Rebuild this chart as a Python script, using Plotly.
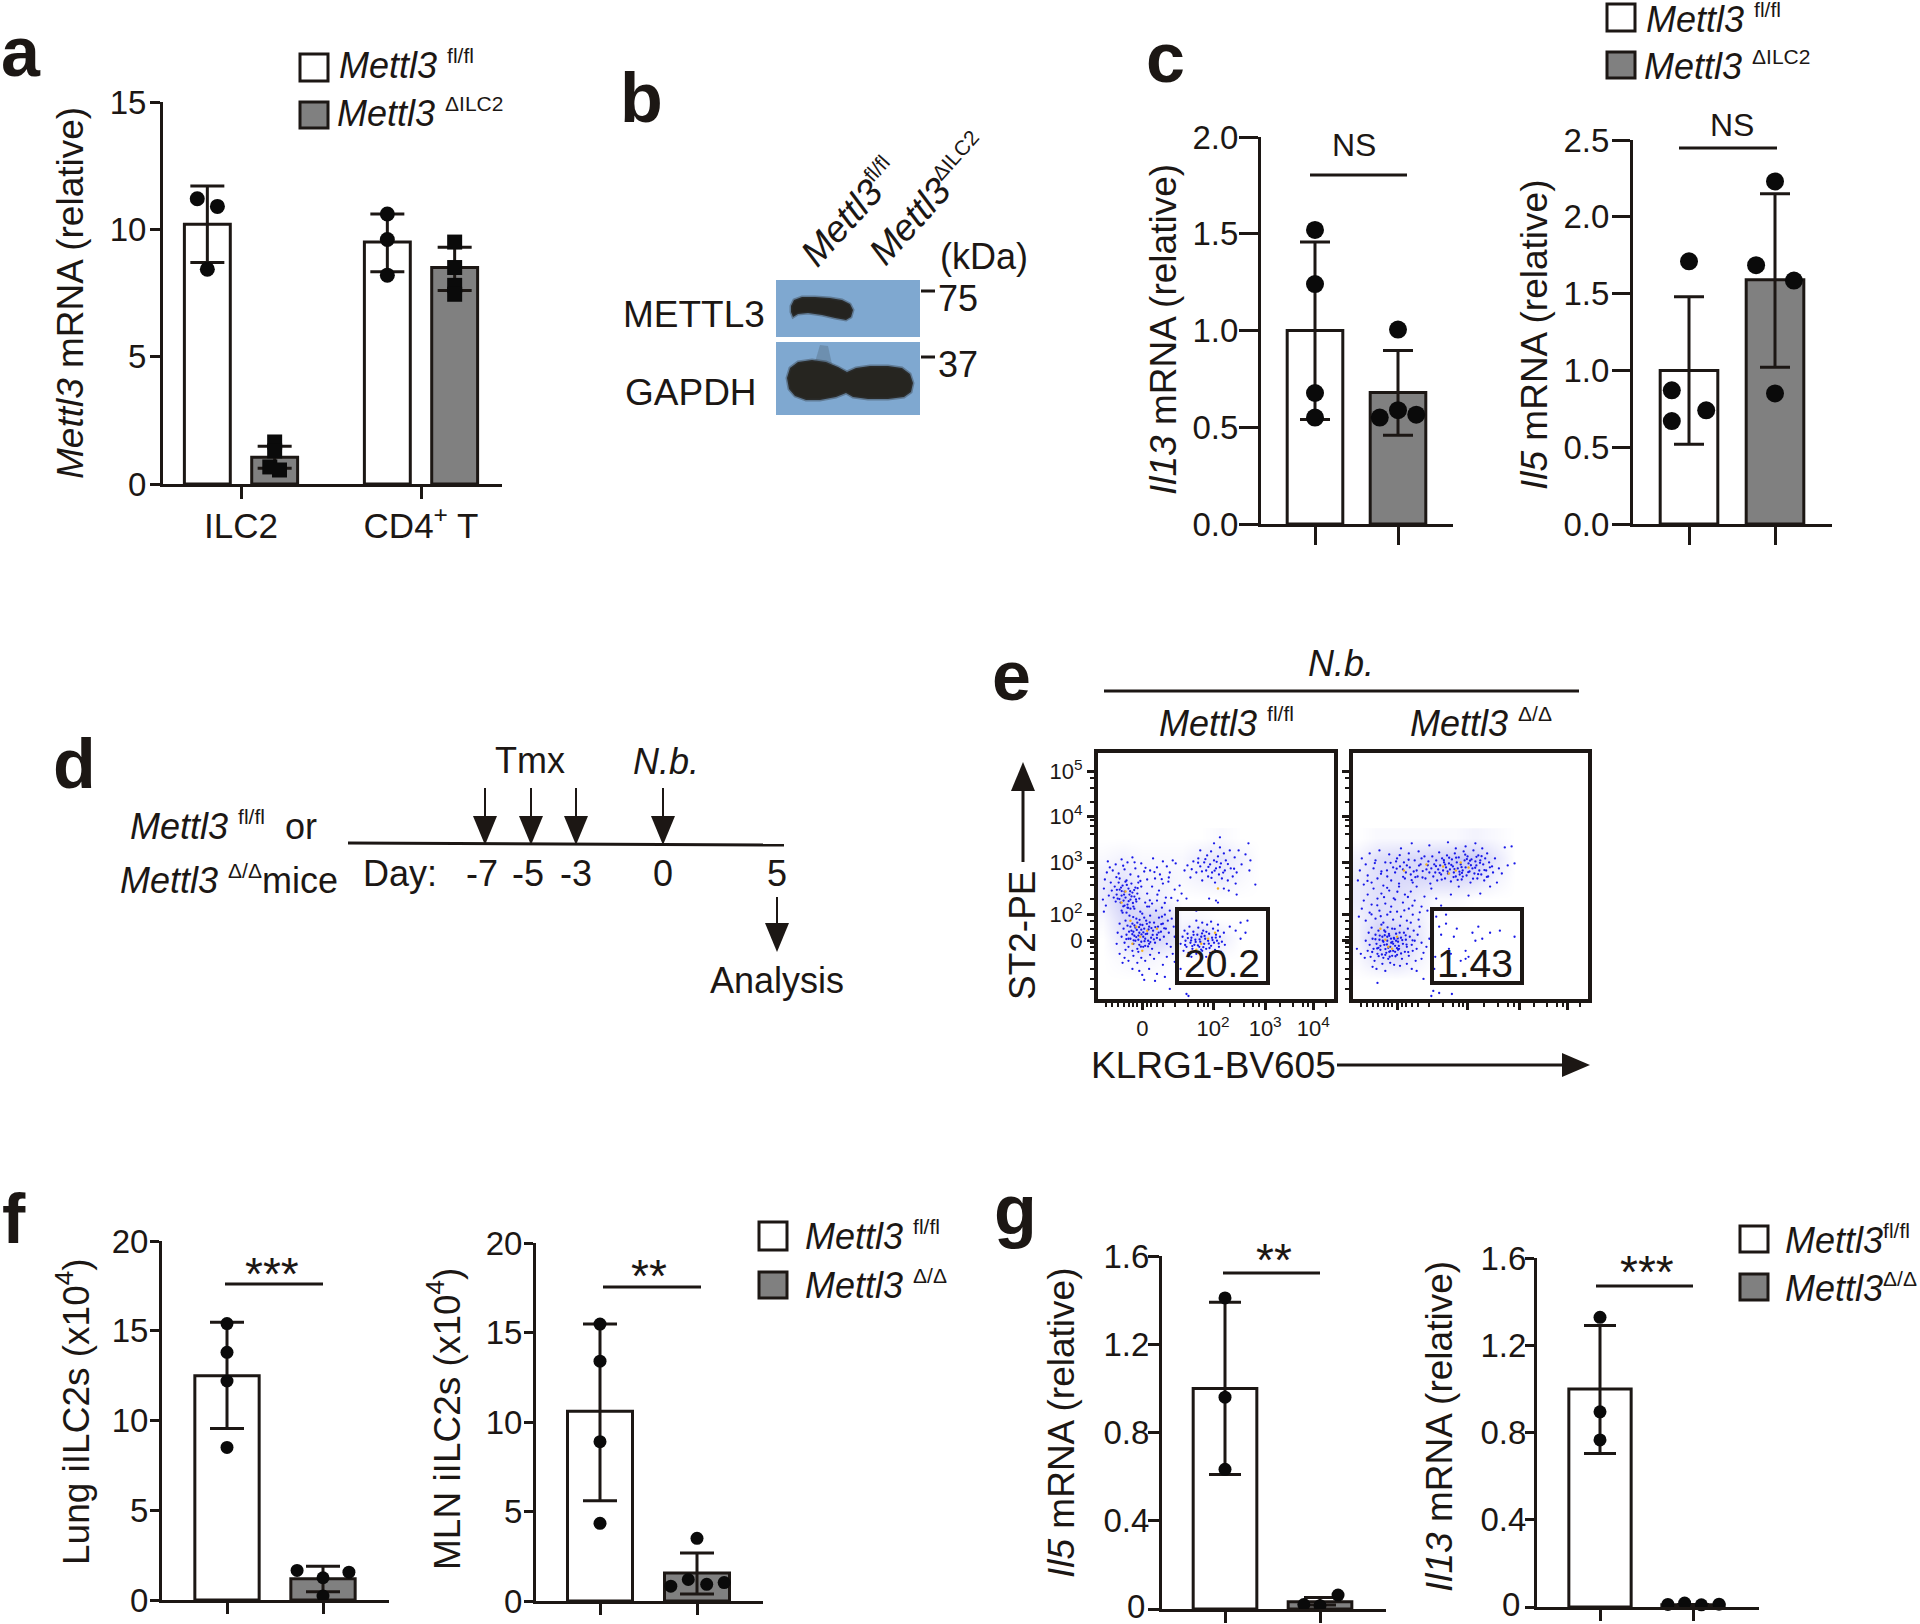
"""
Multi-panel Mettl3 figure (a-g): bar panels, blot sketch, timeline and flow plots.
"""

import plotly.graph_objects as go

W, H = 1920, 1624
INK = "#1C1714"
GRAY = "#808080"
BLOT_BLUE = "#7FA8D0"
FONT = "Liberation Sans"
FL = '<sup><span style="font-size:21px">fl/fl</span></sup>'
DD = '<sup><span style="font-size:21px">Δ/Δ</span></sup>'
DI = '<sup><span style="font-size:21px">ΔILC2</span></sup>'

# panel a
A_CATS = ["ILC2", "CD4<sup>+</sup> T"]
A_X = [-0.187, 0.187, 0.813, 1.187]
A_MEAN = [10.2, 1.05, 9.5, 8.5]
A_HI = [11.7, 1.48, 10.6, 9.3]
A_LO = [8.7, 0.62, 8.33, 7.6]
A_PX = [-0.243, -0.131, -0.187, 0.187, 0.187, 0.16, 0.214, 0.813, 0.813, 0.813, 1.187, 1.187, 1.187, 1.187]
A_PY = [11.2, 10.9, 8.43, 1.65, 1.3, 0.67, 0.55, 10.6, 9.6, 8.2, 9.5, 8.5, 7.8, 7.45]
A_SYM = ["circle"] * 3 + ["square"] * 4 + ["circle"] * 3 + ["square"] * 4

# panel c
C1_MEAN = [1.0, 0.68]
C1_HI = [1.457, 0.897]
C1_LO = [0.54, 0.459]
C1_PX = [0, 0, 0, 0, 1, 0.78, 1, 1.22]
C1_PY = [1.52, 1.24, 0.677, 0.55, 1.005, 0.55, 0.588, 0.565]

C2_MEAN = [1.0, 1.59]
C2_HI = [1.48, 2.15]
C2_LO = [0.52, 1.02]
C2_PX = [0, -0.2, -0.2, 0.2, 1, 0.78, 1.22, 1]
C2_PY = [1.71, 0.87, 0.67, 0.74, 2.23, 1.685, 1.585, 0.85]

# panel f
F1_MEAN = [12.5, 1.18]
F1_HI = [15.47, 1.88]
F1_LO = [9.55, 0.46]
F1_PX = [0, 0, 0, 0, 0.73, 1.27, 1, 1]
F1_PY = [15.4, 13.8, 12.2, 8.5, 1.65, 1.55, 1.24, 0.22]

F2_MEAN = [10.6, 1.57]
F2_HI = [15.47, 2.68]
F2_LO = [5.6, 0.39]
F2_PX = [0, 0, 0, 0, 1, 0.73, 0.91, 1.1, 1.28]
F2_PY = [15.47, 13.4, 8.9, 4.34, 3.5, 0.83, 1.2, 0.93, 1.03]

# panel g
G1_MEAN = [1.0, 0.033]
G1_HI = [1.39, 0.052]
G1_LO = [0.61, 0.018]
G1_PX = [0, 0, 0, 0.83, 1, 1.19]
G1_PY = [1.41, 0.96, 0.633, 0.02, 0.015, 0.063]

G2_MEAN = [1.0, 0.01]
G2_HI = [1.29, 0.012]
G2_LO = [0.704, 0.008]
G2_PX = [0, 0, 0, 0.73, 0.91, 1.09, 1.28]
G2_PY = [1.328, 0.895, 0.766, 0.012, 0.018, 0.01, 0.013]

# y ticks shared by the bar panels
TICKS_A = [0, 5, 10, 15]
TICKS_C1 = [0, 0.5, 1.0, 1.5, 2.0]
TICKS_C2 = [0, 0.5, 1.0, 1.5, 2.0, 2.5]
TICKS_F = [0, 5, 10, 15, 20]
TICKS_G = [0, 0.4, 0.8, 1.2, 1.6]

# panel e, display channels of the flow plots (KLRG1, ST2), dots read by eye
E_X_TICKS = [45, 117, 170, 219]
E_Y_TICKS = [58, 84, 136, 182, 227]
E_X_LABELS = ["0", "10<sup>2</sup>", "10<sup>3</sup>", "10<sup>4</sup>"]
E_Y_LABELS = ["0", "10<sup>2</sup>", "10<sup>3</sup>", "10<sup>4</sup>", "10<sup>5</sup>"]
E_X_MINOR = [8, 14, 20, 26, 32, 36, 40, 50, 54, 60, 66, 78, 92, 102, 108, 112, 134, 148, 158, 164, 185, 198, 208, 214, 232]
E_Y_MINOR = [10, 20, 30, 40, 46, 52, 56, 62, 70, 78, 100, 114, 122, 130, 150, 164, 172, 178, 196, 210, 220]
E_GRID_X = [5, 25, 45, 65, 85, 105, 125, 145, 165]
E_GRID_Y = [20, 40, 60, 80, 100, 120, 140, 160]
E1_DENSITY = [
    [0, 0, 0, 0, 0, 0, 0, 0, 0],
    [0, 1, 2, 1, 0, 0, 0, 0, 0],
    [0, 4, 8, 6, 3, 7, 3, 0, 0],
    [1, 6, 7, 7, 1, 1, 0, 0, 0],
    [3, 8, 3, 2, 0, 0, 0, 0, 0],
    [3, 4, 2, 2, 1, 2, 3, 1, 0],
    [1, 2, 1, 1, 1, 3, 4, 2, 0],
    [0, 0, 0, 0, 0, 0, 1, 0, 0],
]
E2_DENSITY = [
    [0, 0, 0, 0, 0, 0, 0, 0, 0],
    [1, 4, 5, 2, 0, 0, 0, 0, 0],
    [2, 8, 9, 4, 0, 0, 0, 0, 0],
    [2, 5, 4, 3, 0, 0, 0, 0, 0],
    [3, 5, 5, 3, 1, 1, 0, 0, 0],
    [3, 5, 6, 6, 6, 6, 5, 2, 0],
    [2, 5, 6, 6, 7, 8, 8, 4, 0],
    [0, 1, 1, 1, 1, 1, 2, 1, 0],
]
E1_DOTS = [
    (14, 108), (17, 112), (19, 104), (20, 100), (21, 116), (22, 109), (23, 96), (24, 103), (25, 113), (26, 98),
    (27, 107), (28, 101), (29, 118), (30, 94), (31, 110), (32, 104), (33, 99), (34, 115), (35, 106), (36, 92),
    (37, 102), (38, 111), (39, 97), (40, 105), (41, 116), (42, 100), (18, 97), (16, 101), (22, 120), (27, 93),
    (33, 90), (44, 112), (13, 116), (11, 103), (24, 88), (29, 86),
    (7, 119), (6, 110), (9, 126), (12, 131), (15, 128), (10, 137), (18, 134), (21, 125), (24, 139), (27, 129),
    (30, 136), (33, 124), (35, 141), (38, 130), (41, 122), (44, 135), (47, 127), (50, 119), (53, 128), (56, 140),
    (60, 131), (63, 124), (66, 137), (70, 132), (73, 126), (76, 138), (79, 135), (55, 112), (58, 120), (62, 108),
    (66, 115), (69, 101), (72, 121), (78, 109), (81, 98), (50, 105), (8, 93), (5, 99), (6, 87), (48, 96), (52, 92),
    (24, 62), (26, 70), (27, 56), (28, 78), (29, 64), (30, 73), (31, 52), (32, 83), (33, 60), (34, 68), (35, 75),
    (36, 55), (37, 63), (38, 71), (39, 80), (40, 50), (41, 59), (42, 66), (43, 74), (44, 57), (45, 85), (46, 62),
    (47, 70), (48, 53), (49, 78), (50, 65), (51, 58), (52, 72), (53, 83), (54, 61), (55, 50), (56, 68), (57, 76),
    (58, 56), (59, 88), (60, 64), (61, 72), (62, 81), (63, 59), (64, 67), (65, 91), (66, 75), (67, 62), (68, 84),
    (69, 70), (70, 55), (71, 78), (72, 66), (73, 88), (74, 52), (38, 58), (42, 54), (36, 67), (44, 69), (40, 76),
    (46, 52), (33, 72), (31, 60), (48, 60), (52, 55), (35, 48), (41, 47), (28, 49), (47, 81), (43, 87), (37, 90),
    (30, 91), (25, 86), (22, 75), (20, 66), (50, 92), (55, 95), (60, 98), (65, 82), (75, 80), (78, 62), (80, 55),
    (77, 72),
    (19, 55), (22, 45), (27, 41), (31, 38), (36, 43), (40, 36), (44, 41), (48, 38), (53, 44), (57, 40), (62, 46),
    (66, 34), (70, 42), (76, 45), (78, 37), (42, 28), (45, 24), (47, 19), (35, 30), (52, 30), (60, 25), (68, 22),
    (73, 10), (90, 5), (92, 3), (80, 15), (58, 18), (84, 30), (25, 36),
    (84, 55), (86, 62), (87, 48), (88, 68), (89, 58), (90, 52), (91, 65), (92, 46), (93, 72), (94, 56), (95, 61),
    (96, 50), (97, 67), (98, 54), (99, 59), (100, 45), (101, 64), (102, 71), (103, 52), (104, 57), (105, 62),
    (106, 48), (107, 68), (108, 55), (109, 60), (110, 50), (111, 74), (112, 58), (113, 65), (114, 46), (115, 53),
    (116, 61), (117, 70), (118, 56), (119, 49), (120, 64), (121, 58), (122, 68), (123, 52), (124, 62), (125, 47),
    (126, 57), (128, 66), (129, 54), (100, 78), (106, 76), (115, 77), (122, 74), (134, 72), (140, 68), (145, 76),
    (152, 78), (150, 66), (145, 60), (95, 42), (110, 42),
    (88, 128), (91, 133), (94, 121), (97, 137), (100, 126), (102, 140), (104, 132), (106, 118), (108, 136),
    (110, 128), (111, 143), (112, 122), (114, 134), (115, 147), (116, 126), (118, 138), (119, 116), (120, 130),
    (122, 142), (123, 124), (124, 151), (125, 135), (126, 120), (128, 145), (129, 128), (130, 138), (132, 118),
    (134, 148), (135, 130), (137, 122), (139, 141), (141, 126), (143, 148), (146, 134), (150, 144), (153, 155),
    (155, 138), (154, 128), (124, 161), (118, 155), (104, 148), (140, 115), (133, 108), (128, 110), (160, 114),
    (141, 104), (120, 98), (122, 96), (113, 100), (96, 90), (100, 88), (83, 113), (85, 105), (90, 100),
    (26.5, 104), (31.2, 97.4), (23.4, 111), (36.8, 108.5), (29.3, 113.6), (34.1, 102.2), (25.7, 92.3), (38.6, 99.1),
    (21.8, 99.5), (32.7, 107.3), (27.9, 116.8), (19.2, 108.7), (35.5, 95.6), (40.3, 110.4), (30.6, 90.8), (24.1, 107.5),
    (44.2, 64.3), (38.9, 61.7), (51.4, 69.2), (47.3, 57.6), (41.8, 71.5), (55.6, 63.8), (36.2, 58.4), (49.7, 74.9),
    (43.6, 52.1), (58.3, 71.6), (34.9, 64.5), (53.2, 56.7), (46.1, 66.4), (39.4, 68.8), (61.7, 66.2), (42.3, 78.9),
    (56.8, 59.3), (48.5, 64.7), (37.1, 73.2), (64.4, 74.5), (31.6, 67.1), (52.6, 76.3), (45.2, 73.7), (59.9, 60.8),
    (35.8, 81.6), (41.1, 63.2), (67.3, 70.4), (28.8, 59.7), (54.3, 70.6), (50.9, 52.4),
    (94.7, 58.3), (101.6, 53.4), (108.4, 62.8), (97.2, 63.9), (104.9, 49.2), (112.7, 55.1), (99.3, 56.8), (116.5, 58.7),
    (107.1, 51.6), (91.4, 60.7), (110.2, 66.9), (103.3, 59.4), (119.8, 61.2), (95.9, 52.7), (113.4, 50.8), (88.6, 53.8),
    (122.7, 55.3), (105.8, 65.3),
    (112.3, 131.5), (118.6, 127.8), (105.7, 127.1), (123.9, 131.2), (115.4, 120.6), (109.2, 139.3), (127.3, 125.9),
    (101.8, 135.7), (132.1, 134.4), (120.7, 136.6), (95.3, 129.2), (138.4, 129.7),
    (48.3, 130.6), (37.2, 136.1), (64.8, 119.3), (25.6, 132.7), (57.4, 126.4), (71.6, 116.8), (18.7, 121.3), (43.1, 117.5),
    (74.5, 100.7), (60.4, 103.9), (52.7, 98.3), (67.9, 95.6),
]
E2_DOTS = [
    (13, 58), (15, 48), (16, 66), (17, 54), (18, 42), (19, 71), (20, 60), (21, 50), (22, 38), (23, 64), (24, 55),
    (25, 45), (26, 68), (27, 59), (28, 49), (29, 74), (30, 62), (31, 41), (32, 54), (33, 67), (34, 46), (35, 58),
    (36, 51), (37, 63), (38, 36), (39, 56), (40, 70), (41, 48), (42, 60), (43, 53), (44, 65), (45, 44), (46, 57),
    (47, 50), (48, 73), (49, 61), (50, 40), (51, 55), (52, 66), (53, 47), (54, 59), (55, 52), (56, 70), (57, 43),
    (58, 62), (59, 76), (60, 54), (61, 48), (62, 68), (63, 58), (64, 38), (65, 50), (66, 64), (68, 72), (70, 56),
    (72, 46), (33, 44), (37, 47), (41, 55), (38, 52), (35, 62), (31, 57), (44, 58), (46, 49), (40, 43), (43, 47),
    (28, 53), (26, 51), (36, 40), (30, 35), (42, 34), (48, 33), (24, 30), (33, 28), (20, 32), (55, 35), (60, 30),
    (65, 28), (70, 40), (75, 52), (80, 48), (78, 60), (84, 42), (12, 41), (8, 45), (4, 50),
    (6, 82), (9, 90), (11, 98), (13, 78), (15, 104), (17, 86), (19, 94), (21, 110), (23, 80), (25, 100), (27, 88),
    (29, 105), (31, 76), (33, 95), (35, 84), (37, 108), (39, 92), (41, 79), (43, 99), (45, 87), (47, 112), (49, 82),
    (51, 96), (53, 104), (55, 78), (57, 90), (59, 107), (61, 84), (63, 98), (65, 112), (67, 79), (70, 92), (73, 102),
    (76, 88), (80, 110), (85, 100), (90, 93), (95, 84), (100, 104),
    (5, 118), (7, 128), (9, 140), (11, 114), (13, 134), (15, 123), (17, 145), (19, 116), (21, 130), (23, 138),
    (25, 120), (27, 148), (29, 127), (31, 113), (33, 136), (35, 122), (37, 144), (39, 118), (41, 131), (43, 126),
    (45, 140), (47, 115), (49, 150), (51, 129), (52, 136), (53, 120), (55, 133), (57, 145), (59, 124), (61, 116),
    (63, 138), (65, 128), (67, 147), (69, 134), (71, 121), (73, 142), (75, 129), (77, 137), (79, 115), (48, 132),
    (44, 137), (58, 131), (62, 127), (54, 126), (66, 122), (70, 140), (74, 120), (78, 126),
    (80, 130), (81, 142), (82, 122), (83, 134), (84, 126), (85, 138), (86, 118), (87, 129), (88, 146), (89, 133),
    (90, 124), (91, 140), (92, 128), (93, 136), (94, 120), (95, 131), (96, 143), (97, 125), (98, 135), (99, 129),
    (100, 117), (101, 139), (102, 132), (103, 126), (104, 145), (105, 122), (106, 136), (107, 130), (108, 141),
    (109, 124), (110, 134), (111, 119), (112, 128), (113, 147), (114, 138), (115, 131), (116, 123), (117, 142),
    (118, 135), (119, 127), (120, 116), (121, 139), (122, 130), (123, 148), (124, 125), (125, 137), (126, 133),
    (127, 120), (128, 143), (129, 128), (130, 138), (131, 124), (132, 150), (133, 134), (134, 118), (135, 140),
    (136, 128), (137, 145), (138, 122), (139, 136), (140, 112), (142, 132), (143, 126), (145, 140), (147, 116),
    (149, 130), (152, 125), (155, 151), (158, 133), (162, 152), (165, 135), (125, 155), (115, 152), (97, 156),
    (105, 150), (78, 153), (60, 155), (130, 105), (118, 103), (108, 112),
    (85, 82), (88, 72), (90, 64), (95, 75), (100, 45), (103, 62), (106, 70), (115, 48), (118, 42), (122, 66),
    (125, 58), (128, 72), (132, 60), (140, 66), (150, 68), (165, 62), (98, 50), (110, 38), (83, 30), (86, 15),
    (80, 3), (82, 8), (88, 6), (101, 5), (72, 20), (25, 16), (115, 40),
    (34.6, 54.3), (41.7, 60.8), (27.3, 63.2), (46.8, 52.9), (38.1, 47.6), (31.9, 68.2), (50.3, 58.7), (24.7, 50.4),
    (43.4, 42.6), (36.7, 64.8), (29.5, 44.3), (53.8, 63.4), (40.2, 56.9), (33.1, 49.7), (47.6, 66.1), (22.9, 59.5),
    (56.4, 46.7), (38.8, 60.1), (44.9, 50.6), (30.4, 58.1), (35.3, 71.4), (60.8, 58.4), (26.2, 42.7), (42.6, 69.8),
    (49.1, 45.3), (37.5, 42.1), (32.4, 63.5), (54.7, 54.2), (19.6, 46.8), (45.7, 60.3),
    (100.4, 133.5), (108.7, 126.8), (116.3, 139.4), (124.8, 130.7), (96.6, 127.2), (112.1, 121.9), (120.4, 133.2),
    (105.3, 140.8), (129.7, 135.6), (92.8, 138.2), (117.7, 126.3), (134.2, 128.4), (88.4, 125.7), (102.7, 121.4),
    (126.1, 141.6), (110.9, 131.3), (98.2, 140.7), (122.6, 119.8), (84.7, 132.3), (114.6, 143.7), (139.8, 131.1),
    (106.9, 118.6), (131.3, 142.2), (94.1, 133.9), (119.5, 137.8), (127.8, 124.3), (90.6, 118.9), (103.6, 129.4),
    (136.7, 121.6), (111.3, 125.6),
    (71.2, 127.4), (56.8, 138.7), (63.7, 121.3), (44.6, 129.8), (76.3, 133.2), (51.2, 121.7), (38.4, 135.6), (67.4, 132.9),
    (28.6, 124.7), (59.9, 118.3), (34.7, 128.1), (22.3, 135.4), (14.8, 117.6), (47.7, 143.2),
    (24.8, 93.3), (38.2, 86.7), (52.4, 88.2), (31.7, 101.4), (45.3, 106.8), (18.9, 84.2), (60.7, 92.9), (41.6, 100.3),
    (28.3, 82.4), (56.1, 101.6), (34.9, 110.7), (68.2, 86.3),
]
E1_WARM = [(28, 107), (24, 96), (39, 72), (43, 62), (50, 68), (35, 55), (60, 70), (105, 55), (112, 60), (100, 49), (119, 66), (122, 110), (45, 48), (33, 78)]
E2_WARM = [(40, 50), (33, 59), (45, 62), (28, 70), (92, 132), (105, 128), (110, 136), (118, 131), (98, 125), (75, 134), (52, 128), (36, 52)]

# panel d
D_DAYS = ["-7", "-5", "-3", "0", "5"]
D_DAY_X = [482, 528, 576, 663, 777]
D_ARROW_X = [485, 531, 576, 663]

fig = go.Figure()
shapes = []
notes = []


def fx(px):
    return px / W


def fy(py):
    return 1 - py / H


def text(px, py, label, size=36, angle=0, anchor="center", color=INK, bold=False):
    notes.append(
        dict(
            xref="paper", yref="paper", x=fx(px), y=fy(py), text=f"<b>{label}</b>" if bold else label,
            showarrow=False, xanchor=anchor, yanchor="middle", textangle=angle,
            font=dict(family=FONT, size=size, color=color),
        )
    )


def line(x0, y0, x1, y1, width=3):
    shapes.append(
        dict(type="line", xref="paper", yref="paper", x0=fx(x0), y0=fy(y0), x1=fx(x1), y1=fy(y1),
             line=dict(color=INK, width=width))
    )


def blob(points, fill, edge="rgba(0,0,0,0)", edge_width=0):
    """Closed paper-space polygon from pixel points."""
    path = "M " + " L ".join(f"{fx(x):.5f} {fy(y):.5f}" for x, y in points) + " Z"
    shapes.append(
        dict(type="path", xref="paper", yref="paper", path=path, fillcolor=fill,
             line=dict(color=edge, width=edge_width))
    )


def box(x0, y0, x1, y1, fill, width=3):
    shapes.append(
        dict(type="rect", xref="paper", yref="paper", x0=fx(x0), y0=fy(y0), x1=fx(x1), y1=fy(y1),
             fillcolor=fill, line=dict(color=INK, width=width))
    )


def legend(x_box, y_top, y_bot, x_text, y_text, second, sep=" "):
    w = 28
    box(x_box, y_top[0], x_box + w, y_top[1], "white")
    box(x_box, y_bot[0], x_box + w, y_bot[1], GRAY)
    text(x_text[0], y_text[0], f"<i>Mettl3</i>{sep}{FL}", anchor="left")
    text(x_text[1], y_text[1], f"<i>Mettl3</i>{sep}{second}", anchor="left")


def bar_panel(n, dom_x, dom_y, ticks_px, bar_x, mean, hi, lo, pts_x, pts_y, yticks, yticktext=None,
              cats=None, width=0.67, cap=15, msize=15, symbols="circle", ylen=9, xlen=11, ystandoff=-4):
    unit = ticks_px[1] - ticks_px[0]
    colours = ["white", GRAY] * (len(mean) // 2)
    axis_x, axis_y = f"x{n}", f"y{n}"
    fig.add_trace(
        go.Bar(
            x=bar_x, y=mean, width=width, xaxis=axis_x, yaxis=axis_y, showlegend=False,
            marker=dict(color=colours, line=dict(color=INK, width=3)),
            error_y=dict(
                type="data", symmetric=False,
                array=[h - m for h, m in zip(hi, mean)],
                arrayminus=[m - l for m, l in zip(mean, lo)],
                color=INK, thickness=3, width=cap,
            ),
        )
    )
    fig.add_trace(
        go.Scatter(
            x=pts_x, y=pts_y, mode="markers", xaxis=axis_x, yaxis=axis_y, showlegend=False, cliponaxis=False,
            marker=dict(color="#0A0A0A", size=msize, symbol=symbols),
        )
    )
    x_ticks = dict(tickvals=[0, 1], ticktext=cats) if cats else dict(tickvals=[0, 1], showticklabels=False)
    fig.update_layout(
        **{
            f"xaxis{n}": dict(
                domain=[fx(dom_x[0]), fx(dom_x[1])], anchor=axis_y, automargin=False,
                range=[(dom_x[0] - ticks_px[0]) / unit, (dom_x[1] - ticks_px[0]) / unit],
                tickmode="array", **x_ticks,
                ticks="outside", ticklen=xlen, tickwidth=3, tickcolor=INK, ticklabelstandoff=-3,
                showline=True, linewidth=3, linecolor=INK, showgrid=False, zeroline=False,
                tickfont=dict(family=FONT, size=35, color=INK),
            ),
            f"yaxis{n}": dict(
                domain=[fy(dom_y[1]), fy(dom_y[0])], anchor=axis_x, automargin=False,
                range=[0, yticks[-1]],
                tickmode="array", tickvals=yticks,
                ticktext=yticktext or [f"{v}" for v in yticks],
                ticks="outside", ticklen=ylen, tickwidth=3, tickcolor=INK, ticklabelstandoff=ystandoff,
                showline=True, linewidth=3, linecolor=INK, showgrid=False, zeroline=False,
                tickfont=dict(family=FONT, size=33, color=INK),
            ),
        }
    )


def flow_panel(n, dom_x, dom_y, density, dots, warm, labelled):
    axis_x, axis_y = f"x{n}", f"y{n}"
    fig.add_trace(
        go.Heatmap(
            x=E_GRID_X, y=E_GRID_Y, z=density, zsmooth="best", showscale=False, xaxis=axis_x, yaxis=axis_y,
            zmin=0, zmax=12, colorscale=[[0, "white"], [1, "#B4B4F4"]],
        )
    )
    fig.add_trace(
        go.Scatter(
            x=[d[0] for d in dots], y=[d[1] for d in dots], mode="markers", xaxis=axis_x, yaxis=axis_y,
            showlegend=False, marker=dict(color="#1818E8", size=2.3),
        )
    )
    fig.add_trace(
        go.Scatter(
            x=[d[0] for d in warm], y=[d[1] for d in warm], mode="markers", xaxis=axis_x, yaxis=axis_y,
            showlegend=False, marker=dict(color="#F2B01E", size=2.4),
        )
    )
    common = dict(
        showline=True, linewidth=4, linecolor=INK, mirror=True, showgrid=False, zeroline=False,
        ticks="outside", ticklen=7, tickwidth=3, tickcolor=INK, tickmode="array", automargin=False,
        showticklabels=labelled, tickfont=dict(family=FONT, size=22, color=INK),
    )
    minor = dict(ticks="outside", ticklen=4, tickwidth=2, tickcolor=INK)
    fig.update_layout(
        **{
            f"xaxis{n}": dict(
                domain=[fx(dom_x[0]), fx(dom_x[1])], anchor=axis_y, range=[0, 240],
                tickvals=E_X_TICKS, ticktext=E_X_LABELS,
                minor=dict(tickvals=E_X_MINOR, **minor), **common,
            ),
            f"yaxis{n}": dict(
                domain=[fy(dom_y[1]), fy(dom_y[0])], anchor=axis_x, range=[0, 245],
                tickvals=E_Y_TICKS, ticktext=E_Y_LABELS,
                minor=dict(tickvals=E_Y_MINOR, **minor), **common,
            ),
        }
    )


# --- bar panels ---
bar_panel(1, (163, 502), (102, 484), (241, 421), A_X, A_MEAN, A_HI, A_LO, A_PX, A_PY, TICKS_A,
          cats=A_CATS, width=0.255, cap=17, msize=15, symbols=A_SYM, ylen=10, xlen=12, ystandoff=-3)
bar_panel(2, (1261, 1453), (137, 524), (1315, 1398), [0, 1], C1_MEAN, C1_HI, C1_LO, C1_PX, C1_PY,
          TICKS_C1, yticktext=["0.0", "0.5", "1.0", "1.5", "2.0"], cap=15, msize=18, ylen=19, xlen=18, ystandoff=-6)
bar_panel(3, (1633, 1832), (140, 524), (1689, 1775), [0, 1], C2_MEAN, C2_HI, C2_LO, C2_PX, C2_PY,
          TICKS_C2, yticktext=["0.0", "0.5", "1.0", "1.5", "2.0", "2.5"], cap=15, msize=18, ylen=18, xlen=18,
          ystandoff=-4)
bar_panel(4, (162, 389), (1241, 1600), (227, 323), [0, 1], F1_MEAN, F1_HI, F1_LO, F1_PX, F1_PY,
          TICKS_F, cap=17, msize=13, ystandoff=-5)
bar_panel(5, (536, 763), (1243, 1601), (600, 697), [0, 1], F2_MEAN, F2_HI, F2_LO, F2_PX, F2_PY,
          TICKS_F, cap=17, msize=13, ystandoff=-5)
# the 0 label of panel g sits so low that plotly drops it, so it is written as a note below
bar_panel(6, (1162, 1386), (1256, 1609), (1225, 1320), [0, 1], G1_MEAN, G1_HI, G1_LO, G1_PX, G1_PY,
          TICKS_G, yticktext=[" ", "0.4", "0.8", "1.2", "1.6"], cap=16, msize=13, ylen=11, ystandoff=-8)
bar_panel(7, (1537, 1759), (1258, 1607), (1600, 1693), [0, 1], G2_MEAN, G2_HI, G2_LO, G2_PX, G2_PY,
          TICKS_G, yticktext=[" ", "0.4", "0.8", "1.2", "1.6"], cap=16, msize=13, ystandoff=-8)
text(1136, 1606, "0", size=33)
text(1511, 1604, "0", size=33)

# --- flow panels ---
flow_panel(8, (1098, 1334), (753, 999), E1_DENSITY, E1_DOTS, E1_WARM, True)
flow_panel(9, (1353, 1588), (753, 999), E2_DENSITY, E2_DOTS, E2_WARM, False)

# panel letters
for letter, px, py in [("a", 21, 52), ("b", 641, 98), ("c", 1165, 58), ("d", 74, 764),
                       ("e", 1011, 676), ("f", 14, 1219), ("g", 1015, 1210)]:
    text(px, py, letter, size=70, bold=True)

# y titles
text(71, 293, "<i>Mettl3</i> mRNA (relative)", size=37, angle=-90)
text(1163, 330, "<i>Il13</i> mRNA (relative)", size=37, angle=-90)
text(1535, 335, "<i>Il5</i> mRNA (relative)", size=37, angle=-90)
text(73, 1412, "Lung iILC2s (x10<sup>4</sup>)", size=37, angle=-90)
text(444, 1419, "MLN iILC2s (x10<sup>4</sup>)", size=37, angle=-90)
text(1061, 1423, "<i>Il5</i> mRNA (relative)", size=37, angle=-90)
text(1439, 1427, "<i>Il13</i> mRNA (relative)", size=37, angle=-90)

# significance brackets
for x0, x1, y, label, tx, ty, size in [
    (1310, 1407, 175, "NS", 1354, 145, 32),
    (1679, 1777, 148, "NS", 1732, 125, 32),
    (225, 323, 1284, "***", 272, 1274, 46),
    (603, 701, 1287, "**", 649, 1276, 46),
    (1223, 1320, 1273, "**", 1274, 1260, 46),
    (1596, 1693, 1286, "***", 1647, 1272, 46),
]:
    line(x0, y, x1, y)
    text(tx, ty, label, size=size)

# legends
legend(300, (54, 81), (102, 128), (337, 335), (65, 113), DI)
legend(1607, (4, 31), (52, 78), (1644, 1642), (19, 66), DI)
legend(759, (1222, 1250), (1272, 1298), (803, 803), (1236, 1285), DD)
legend(1740, (1226, 1252), (1274, 1300), (1783, 1783), (1240, 1288), DD, sep="")

# --- panel b blot ---
shapes.append(dict(type="rect", xref="paper", yref="paper", x0=fx(776), y0=fy(280), x1=fx(920), y1=fy(337),
                   fillcolor=BLOT_BLUE, line=dict(width=0)))
shapes.append(dict(type="rect", xref="paper", yref="paper", x0=fx(776), y0=fy(342), x1=fx(920), y1=fy(415),
                   fillcolor=BLOT_BLUE, line=dict(width=0)))
blob([(791, 306), (794, 300), (802, 297), (815, 297), (830, 298), (842, 300), (850, 304), (853, 310), (851, 317),
      (846, 320), (835, 318), (822, 315), (808, 313), (798, 314), (793, 317), (791, 312)],
     "#24231F", "rgba(50,55,60,0.4)", 3)
blob([(815, 362), (820, 345), (828, 346), (832, 364)], "rgba(70,85,100,0.3)")
blob([(787, 378), (790, 368), (798, 362), (812, 360), (826, 362), (838, 367), (847, 372), (856, 368), (870, 366),
      (888, 366), (902, 368), (910, 374), (913, 383), (911, 392), (904, 397), (888, 399), (868, 399), (853, 397),
      (846, 393), (836, 397), (820, 400), (806, 400), (795, 396), (789, 389)],
     "#262520", "rgba(50,55,60,0.4)", 3)
text(694, 314, "METTL3", size=37)
text(691, 392, "GAPDH", size=37)
text(984, 256, "(kDa)", size=36)
line(921, 291, 935, 291)
line(921, 357, 935, 357)
text(958, 298, "75", size=36)
text(958, 364, "37", size=36)
text(850, 212, f"<i>Mettl3</i>{FL}", size=37, angle=-48)
text(929, 200, f"<i>Mettl3</i>{DI}", size=37, angle=-48)

# --- panel d timeline ---
line(348, 843, 784, 845, width=3)
for x in D_ARROW_X:
    line(x, 788, x, 820, width=2)
    blob([(x - 12, 816), (x + 12, 816), (x, 845)], INK)
line(777, 897, 777, 926, width=2)
blob([(765, 923), (789, 923), (777, 952)], INK)
text(530, 760, "Tmx")
text(666, 761, "<i>N.b.</i>")
text(128, 826, f"<i>Mettl3</i> {FL}  or", anchor="left")
text(118, 880, f"<i>Mettl3</i> {DD}mice", anchor="left")
text(400, 873, "Day:")
for day, x in zip(D_DAYS, D_DAY_X):
    text(x, 873, day)
text(777, 980, "Analysis")

# --- panel e furniture ---
text(1341, 663, "<i>N.b.</i>")
line(1104, 691, 1579, 691)
text(1226, 723, f"<i>Mettl3</i> {FL}")
text(1481, 723, f"<i>Mettl3</i> {DD}")
shapes.append(dict(type="rect", xref="paper", yref="paper", x0=fx(1177), y0=fy(909), x1=fx(1268), y1=fy(983),
                   line=dict(color=INK, width=4)))
shapes.append(dict(type="rect", xref="paper", yref="paper", x0=fx(1432), y0=fy(909), x1=fx(1522), y1=fy(983),
                   line=dict(color=INK, width=4)))
text(1222, 963, "20.2", size=39)
text(1475, 963, "1.43", size=39)
text(1023, 935, "ST2-PE", size=37, angle=-90)
line(1023, 862, 1023, 785)
blob([(1011, 791), (1035, 791), (1023, 762)], INK)
text(1213, 1065, "KLRG1-BV605", size=37)
line(1337, 1065, 1568, 1065)
blob([(1562, 1053), (1562, 1077), (1590, 1065)], INK)

fig.update_layout(
    width=W, height=H, margin=dict(l=0, r=0, t=0, b=0), autosize=False,
    paper_bgcolor="white", plot_bgcolor="rgba(0,0,0,0)", showlegend=False,
    shapes=shapes, annotations=notes, font=dict(family=FONT, color=INK),
)
# drop the browser's default page margin so pixels line up with the layout above
fig.write_html("out.html", post_script="document.body.style.margin='0';", config={"displayModeBar": False})
